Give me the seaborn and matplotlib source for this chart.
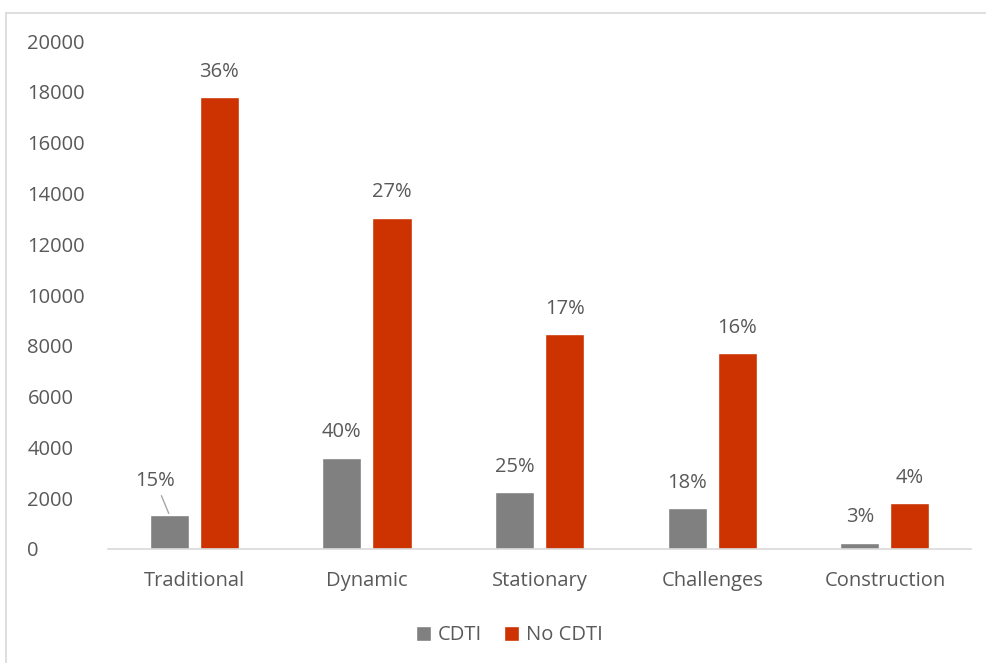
import pandas as pd
import matplotlib
matplotlib.use("Agg")
import matplotlib.pyplot as plt
import seaborn as sns
from matplotlib.lines import Line2D

categories = ["Traditional", "Dynamic", "Stationary", "Challenges", "Construction"]
cdti = [1350, 3600, 2250, 1600, 250]
no_cdti = [17800, 13050, 8450, 7700, 1800]
cdti_pct = ["15%", "40%", "25%", "18%", "3%"]
no_cdti_pct = ["36%", "27%", "17%", "16%", "4%"]

df = pd.DataFrame({
    "category": categories * 2,
    "value": cdti + no_cdti,
    "group": ["CDTI"] * 5 + ["No CDTI"] * 5,
    "label": cdti_pct + no_cdti_pct,
})

sns.set_style("white")
plt.rcParams["font.family"] = ["Open Sans", "DejaVu Sans"]
text_col = "#595959"
fs = 14.5

fig = plt.figure(figsize=(9.86, 6.63), dpi=100)
ax = fig.add_axes([0.1095, 0.172, 0.8755, 0.766])

sns.barplot(data=df, x="category", y="value", hue="group", order=categories,
            palette={"CDTI": "#808080", "No CDTI": "#CC3300"},
            width=0.58, gap=0.22, ax=ax, saturation=1, legend=True)

# percentage labels above bars
for cont, grp in zip(ax.containers, ["CDTI", "No CDTI"]):
    labels = df[df["group"] == grp]["label"].tolist()
    for i, (bar, lab) in enumerate(zip(cont, labels)):
        cx = bar.get_x() + bar.get_width() / 2
        h = bar.get_height()
        if grp == "CDTI" and i == 0:
            # label moved up-left with leader line
            ax.annotate(lab, xy=(cx, h), xytext=(-10, 17), textcoords="offset points",
                        ha="center", va="bottom", fontsize=fs, color=text_col,
                        arrowprops=dict(arrowstyle="-", color="#A6A6A6", lw=1,
                                        shrinkA=1, shrinkB=1))
        else:
            ax.annotate(lab, xy=(cx, h), xytext=(0, 11), textcoords="offset points",
                        ha="center", va="bottom", fontsize=fs, color=text_col)

ax.set_ylim(0, 20000)
ax.set_xlim(-0.5, 4.5)
ax.set_yticks(range(0, 20001, 2000))
ax.set_xlabel("")
ax.set_ylabel("")
ax.tick_params(axis="both", colors=text_col, labelsize=fs, length=0)
ax.tick_params(axis="x", pad=16)
ax.tick_params(axis="y", pad=58)
for lab in ax.get_yticklabels():
    lab.set_horizontalalignment("left")
for s in ["top", "right", "left"]:
    ax.spines[s].set_visible(False)
ax.spines["bottom"].set_color("#D9D9D9")
ax.spines["bottom"].set_linewidth(1.2)

leg = ax.legend(loc="upper center", bbox_to_anchor=(0.465, -0.115), ncol=2, frameon=False,
                fontsize=fs, handlelength=0.75, handleheight=0.75, handletextpad=0.35,
                columnspacing=1.1)
for t in leg.get_texts():
    t.set_color(text_col)

# outer chart frame (left and top edges only)
fig.add_artist(Line2D([6 / 986, 6 / 986], [0, 1 - 13 / 663], transform=fig.transFigure,
                      color="#D9D9D9", lw=1.2))
fig.add_artist(Line2D([6 / 986, 1], [1 - 13 / 663, 1 - 13 / 663], transform=fig.transFigure,
                      color="#D9D9D9", lw=1.2))

fig.savefig("out.png", dpi=100)
